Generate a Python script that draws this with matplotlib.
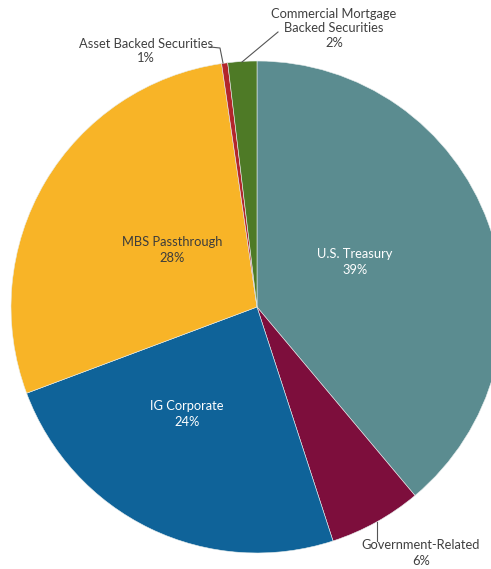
import matplotlib.pyplot as plt

# allocation, clockwise from 12 o'clock (slice sizes)
labels = ['U.S. Treasury', 'Government-Related', 'IG Corporate',
          'MBS Passthrough', 'Asset Backed Securities',
          'Commercial Mortgage\nBacked Securities']
shares = [38.9, 6.1, 24.3, 28.4, 0.4, 1.9]
pct_labels = ['39%', '6%', '24%', '28%', '1%', '2%']
colors = ['#5B8C90', '#7D0E3C', '#0F6399', '#F8B427', '#B3262B', '#4E7A26']

plt.rcParams['font.family'] = ['Lato', 'DejaVu Sans']

fig = plt.figure(figsize=(4.91, 5.69), dpi=100)
ax = fig.add_axes([0, 0, 1, 1])

H = 569
ax.pie(shares, colors=colors, startangle=90, counterclock=False,
       center=(257, H - 307), radius=246, frame=True,
       wedgeprops=dict(linewidth=0.4, edgecolor='#e8eeee'))
ax.set_xlim(0, 491)
ax.set_ylim(0, 569)
ax.set_aspect('equal')
ax.axis('off')

fs = 9.3
ls = 1.35
txt = '#404040'
# labels inside the slices
ax.text(355, H - 262, labels[0] + '\n' + pct_labels[0], color='white',
        fontsize=fs, ha='center', va='center', linespacing=ls)
ax.text(172, H - 250, labels[3] + '\n' + pct_labels[3], color='#3c3c3c',
        fontsize=fs, ha='center', va='center', linespacing=ls)
ax.text(187, H - 414, labels[2] + '\n' + pct_labels[2], color='white',
        fontsize=fs, ha='center', va='center', linespacing=ls)

# labels outside with leader lines
ax.text(421, H - 553, labels[1] + '\n' + pct_labels[1], color=txt, fontsize=fs,
        ha='center', va='center', linespacing=ls)
ax.plot([377, 377], [H - 522, H - 541], color='#555555', lw=0.8)

ax.text(146, H - 51, labels[4] + '\n' + pct_labels[4], color=txt, fontsize=fs,
        ha='center', va='center', linespacing=1.25)
ax.plot([210, 220, 223], [H - 47, H - 48, H - 63], color='#555555', lw=0.8)

ax.text(334, H - 28, labels[5] + '\n' + pct_labels[5], color=txt,
        fontsize=fs, ha='center', va='center', linespacing=1.25)
ax.plot([278, 242], [H - 32, H - 62], color='#555555', lw=0.8)

fig.savefig('out.png', dpi=100)
